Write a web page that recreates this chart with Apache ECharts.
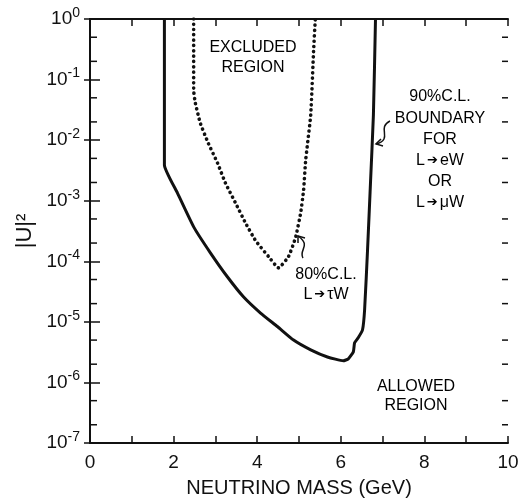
<!DOCTYPE html>
<html>
<head>
<meta charset="utf-8">
<script src="https://cdn.jsdelivr.net/npm/echarts@6/dist/echarts.min.js"></script>
<style>
  html, body { margin: 0; background: #fff; }
  #chart { width: 518px; height: 501px; }
</style>
</head>
<body>
<div id="chart"></div>
<script>
// 90% C.L. boundary for L -> eW or L -> muW (solid)
const boundMass = [1.78, 1.78, 2.09, 2.48, 2.88, 3.29, 3.67, 4.08, 4.49, 4.87, 5.28, 5.68, 6.06, 6.18, 6.30, 6.33, 6.42, 6.52, 6.57, 6.64, 6.71, 6.78, 6.83]
const boundU2   = [1, 3.9e-3, 1.35e-3, 3.7e-4, 1.38e-4, 5.5e-5, 2.6e-5, 1.4e-5, 8.3e-6, 5.0e-6, 3.45e-6, 2.63e-6, 2.28e-6, 2.45e-6, 3.2e-6, 4.5e-6, 5.5e-6, 7.4e-6, 1.6e-5, 1.55e-4, 1.96e-3, 0.026, 1]

// 80% C.L. for L -> tau W (dotted)
const tauMass = [2.48, 2.48, 2.52, 2.64, 2.83, 3.05, 3.24, 3.48, 3.72, 3.96, 4.27, 4.51, 4.75, 4.92, 5.04, 5.11, 5.16, 5.28, 5.35, 5.39]
const tauU2   = [1, 0.067, 0.041, 0.019, 8.9e-3, 4.2e-3, 1.96e-3, 9.2e-4, 4.3e-4, 2.2e-4, 1.2e-4, 7.8e-5, 1.2e-4, 2.5e-4, 6.3e-4, 1.5e-3, 4.7e-3, 0.026, 0.31, 1]

// minor ticks of the log axis (2 and 5 in each decade)
const minorY = [2e-7, 5e-7, 2e-6, 5e-6, 2e-5, 5e-5, 2e-4, 5e-4, 2e-3, 5e-3, 2e-2, 5e-2, 0.2, 0.5]

const ff = "'Liberation Sans', Arial, sans-serif"
const ink = '#111'

const chart = echarts.init(document.getElementById('chart'))

const zip = (a, b) => a.map((v, i) => [v, b[i]])

const xBase = {
  type: 'value', min: 0, max: 10, interval: 2,
  axisLine: { show: true, lineStyle: { color: ink, width: 2 } },
  axisTick: { show: true, inside: true, interval: 0, length: 7, lineStyle: { color: ink, width: 1.5 } },
  minorTick: { show: true, splitNumber: 2, length: 7, lineStyle: { color: ink, width: 1.5 } },
  splitLine: { show: false },
}
const yBase = {
  type: 'log', logBase: 10, min: 1e-7, max: 1, interval: 1,
  axisLine: { show: true, lineStyle: { color: ink, width: 2 } },
  splitLine: { show: false },
}
// labels kept on (transparent) so the ticks of the top/right axes are laid out
const ghostLabel = { show: true, color: 'rgba(0,0,0,0)', fontSize: 10 }

// annotation text, arrows drawn in DejaVu
const txt = { color: ink, fontFamily: ff, fontSize: 16 }
const arr = { color: ink, fontFamily: 'DejaVu Sans', fontSize: 13 }
const note = (text, x, y, lh) => ({
  type: 'text',
  style: { text, x, y, align: 'center', verticalAlign: 'middle', rich: { t: Object.assign({ lineHeight: lh }, txt), a: Object.assign({ lineHeight: lh, padding: [0, 2, 0, 2] }, arr) } },
})

chart.setOption({
  animation: false,
  backgroundColor: '#fff',
  grid: { left: 90, right: 10, top: 19, bottom: 58, containLabel: false, outerBoundsMode: 'none' },
  xAxis: [
    Object.assign({}, xBase, {
      position: 'bottom',
      name: 'NEUTRINO MASS (GeV)', nameLocation: 'middle', nameGap: 35,
      nameTextStyle: { color: ink, fontFamily: ff, fontSize: 20 },
      axisLabel: { color: ink, fontFamily: ff, fontSize: 19, margin: 10 },
    }),
    Object.assign({}, xBase, { position: 'top', axisLabel: ghostLabel }),
  ],
  yAxis: [
    Object.assign({}, yBase, {
      position: 'left',
      name: '|U|²', nameLocation: 'middle', nameGap: 46, nameRotate: 90,
      nameTextStyle: { color: ink, fontFamily: ff, fontSize: 22 },
      axisTick: { show: true, inside: true, interval: 0, length: 10, lineStyle: { color: ink, width: 1.5 } },
      axisLabel: {
        margin: 10,
        formatter: v => '{b|10}{s|' + Math.round(Math.log10(v)) + '}',
        rich: {
          b: { color: ink, fontFamily: ff, fontSize: 19 },
          s: { color: ink, fontFamily: ff, fontSize: 14, padding: [0, 0, 12, 0] },
        },
      },
    }),
    Object.assign({}, yBase, {
      position: 'right',
      axisTick: { show: true, inside: true, interval: 0, length: 6, lineStyle: { color: ink, width: 1.5 } },
      axisLabel: ghostLabel,
    }),
  ],
  series: [
    {
      type: 'line', data: zip(boundMass, boundU2), smooth: 0.15,
      symbol: 'none', lineStyle: { color: ink, width: 3 },
    },
    {
      type: 'line', data: zip(tauMass, tauU2), smooth: 0.15,
      symbol: 'none', lineStyle: { color: ink, width: 3.6, type: [0.1, 5.2], cap: 'round' },
    },
    {
      // minor ticks on left and right frame
      type: 'custom', silent: true, clip: false, xAxisIndex: 1, yAxisIndex: 1,
      data: minorY.map(v => [0, v]),
      renderItem: (params, api) => {
        const p0 = api.coord([0, api.value(1)])
        const p1 = api.coord([10, api.value(1)])
        return {
          type: 'group', children: [
            { type: 'line', shape: { x1: p0[0], y1: p0[1], x2: p0[0] + 7, y2: p0[1] }, style: { stroke: ink, lineWidth: 1.5 } },
            { type: 'line', shape: { x1: p1[0] - 6, y1: p1[1], x2: p1[0], y2: p1[1] }, style: { stroke: ink, lineWidth: 1.5 } },
          ],
        }
      },
    },
  ],
  graphic: [
    note('{t|EXCLUDED}\n{t|REGION}', 253, 58, 20),
    note('{t|90%C.L.}\n{t|BOUNDARY}\n{t|FOR}\n{t|L}{a|➔}{t|eW}\n{t|OR}\n{t|L}{a|➔}{t|μW}', 440, 150, 21.2),
    note('{t|80%C.L.}\n{t|L}{a|➔}{t|τW}', 326, 285, 20),
    note('{t|ALLOWED}\n{t|REGION}', 416, 396, 19.5),
    // squiggle arrows
    { type: 'bezierCurve', shape: { x1: 390, y1: 121, cpx1: 376, cpy1: 128, cpx2: 394, cpy2: 139, x2: 376, y2: 144 }, style: { stroke: ink, lineWidth: 1.5, fill: null } },
    { type: 'polyline', shape: { points: [[381, 139], [376, 144], [383, 146]] }, style: { stroke: ink, lineWidth: 1.5, fill: null } },
    { type: 'bezierCurve', shape: { x1: 303, y1: 258, cpx1: 298, cpy1: 250, cpx2: 312, cpy2: 246, x2: 298, y2: 236 }, style: { stroke: ink, lineWidth: 1.5, fill: null } },
    { type: 'polyline', shape: { points: [[298, 243], [298, 236], [305, 238]] }, style: { stroke: ink, lineWidth: 1.5, fill: null } },
  ],
})
</script>
</body>
</html>
